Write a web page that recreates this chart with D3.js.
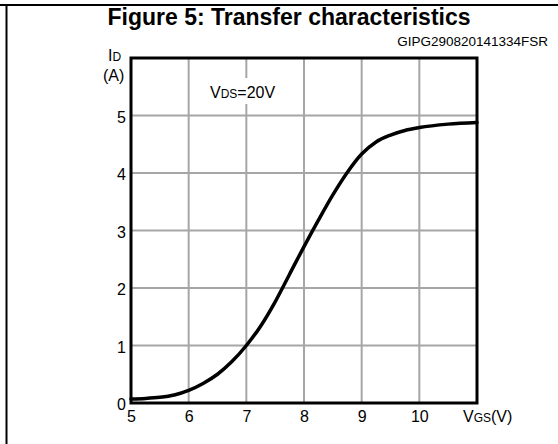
<!DOCTYPE html>
<html>
<head>
<meta charset="utf-8">
<script src="https://cdn.jsdelivr.net/npm/d3@7"></script>
<style>
  body { margin: 0; background: #fff; }
  svg { display: block; font-family: Arial, "Liberation Sans", sans-serif; }
</style>
</head>
<body>
<svg id="chart"></svg>
<script>
// transfer curve
var vgs = [5.0, 5.25, 5.5, 5.75, 6.0, 6.25, 6.5, 6.75, 7.0, 7.25, 7.5, 7.75, 8.0, 8.25, 8.5, 8.75, 9.0, 9.25, 9.5, 9.75, 10.0, 10.5, 11.0];
var id  = [0.07, 0.08, 0.10, 0.14, 0.22, 0.34, 0.50, 0.72, 1.00, 1.34, 1.76, 2.24, 2.72, 3.18, 3.62, 4.01, 4.33, 4.54, 4.66, 4.74, 4.79, 4.85, 4.88];
var xTicks = [5, 6, 7, 8, 9, 10];
var yTicks = [0, 1, 2, 3, 4, 5];
var xGrid = [6, 7, 8, 9, 10];
var yGrid = [1, 2, 3, 4, 5];

var screen = { width: 558, height: 444 };
var plot = { left: 131, right: 477, top: 58, bottom: 403 };

var svg = d3.select('#chart')
            .attr('width', screen.width)
            .attr('height', screen.height);

var xScale = d3.scaleLinear().domain([5, 11]).range([plot.left, plot.right]);
var yScale = d3.scaleLinear().domain([0, 6]).range([plot.bottom, plot.top]);

// page frame (top and left rules)
svg.append('line').attr('x1', 0).attr('x2', screen.width).attr('y1', 5).attr('y2', 5)
   .attr('stroke', '#000').attr('stroke-width', 2);
svg.append('line').attr('x1', 6.5).attr('x2', 6.5).attr('y1', 4).attr('y2', screen.height)
   .attr('stroke', '#000').attr('stroke-width', 2);

// titles
svg.append('text').attr('x', 289).attr('y', 25)
   .attr('text-anchor', 'middle').attr('font-weight', 'bold').attr('font-size', 23)
   .text('Figure 5: Transfer characteristics');
svg.append('text').attr('x', 548).attr('y', 45.5)
   .attr('text-anchor', 'end').attr('font-size', 13.5)
   .text('GIPG290820141334FSR');

// grid
svg.append('g').selectAll('line').data(xGrid).enter().append('line')
   .attr('x1', function(d){ return xScale(d); }).attr('x2', function(d){ return xScale(d); })
   .attr('y1', plot.top).attr('y2', plot.bottom)
   .attr('stroke', '#a6a6a6').attr('stroke-width', 2);
svg.append('g').selectAll('line').data(yGrid).enter().append('line')
   .attr('y1', function(d){ return yScale(d); }).attr('y2', function(d){ return yScale(d); })
   .attr('x1', plot.left).attr('x2', plot.right)
   .attr('stroke', '#a6a6a6').attr('stroke-width', 2);

// condition label (sits on a white patch over the grid)
svg.append('rect').attr('x', 207).attr('y', 78).attr('width', 78).attr('height', 26).attr('fill', '#fff');
var cond = svg.append('text').attr('x', 210).attr('y', 98).attr('font-size', 16);
cond.append('tspan').text('V');
cond.append('tspan').attr('font-size', 12).text('DS');
cond.append('tspan').text('=20V');

// curve
var line = d3.line()
             .x(function(d, i){ return xScale(vgs[i]); })
             .y(function(d){ return yScale(d); })
             .curve(d3.curveMonotoneX);
svg.append('path').datum(id)
   .attr('d', line)
   .attr('fill', 'none').attr('stroke', '#000').attr('stroke-width', 3.5)
   .attr('stroke-linejoin', 'round').attr('stroke-linecap', 'round');

// plot frame
svg.append('rect').attr('x', plot.left).attr('y', plot.top)
   .attr('width', plot.right - plot.left).attr('height', plot.bottom - plot.top)
   .attr('fill', 'none').attr('stroke', '#000').attr('stroke-width', 3);

// axes (labels only)
var xAxis = d3.axisBottom(xScale).tickValues(xTicks).tickFormat(d3.format('d')).tickSize(0).tickPadding(8);
svg.append('g').attr('transform', 'translate(0,' + plot.bottom + ')').call(xAxis)
   .call(function(g){ g.select('.domain').remove(); })
   .selectAll('text').attr('font-size', 16).attr('fill', '#000');

var yAxis = d3.axisLeft(yScale).tickValues(yTicks).tickFormat(d3.format('d')).tickSize(0).tickPadding(5);
svg.append('g').attr('transform', 'translate(' + plot.left + ',0)').call(yAxis)
   .call(function(g){ g.select('.domain').remove(); })
   .selectAll('text').attr('font-size', 16).attr('fill', '#000').attr('dy', '0.42em');

svg.selectAll('g[font-family]').attr('font-family', null);

// axis titles
var xt = svg.append('text').attr('x', 463).attr('y', 422).attr('font-size', 16);
xt.append('tspan').text('V');
xt.append('tspan').attr('font-size', 12).text('GS');
xt.append('tspan').text('(V)');

var yt = svg.append('text').attr('x', 108).attr('y', 61).attr('font-size', 16);
yt.append('tspan').text('I');
yt.append('tspan').attr('font-size', 12).text('D');
svg.append('text').attr('x', 103).attr('y', 81).attr('font-size', 16).text('(A)');
</script>
</body>
</html>
